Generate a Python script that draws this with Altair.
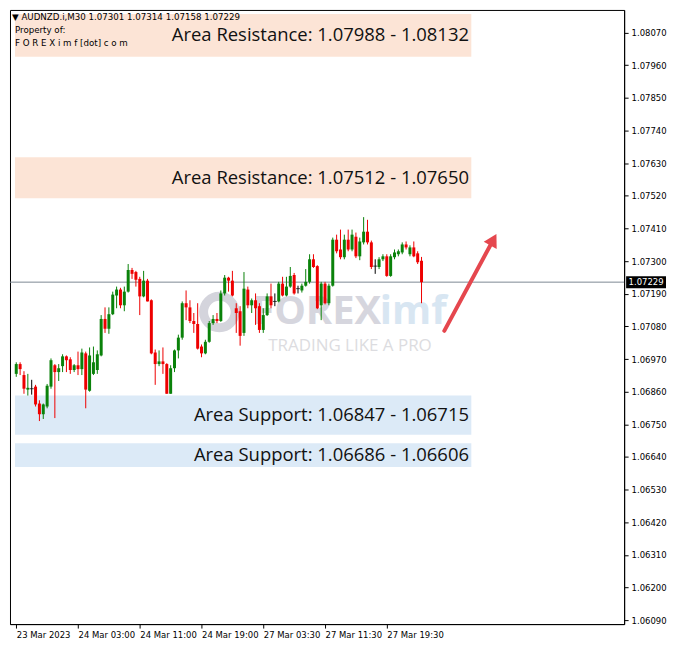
import altair as alt
import pandas as pd

symbol = "AUDNZD.i,M30"
header_ohlc = [1.07301, 1.07314, 1.07158, 1.07229]
last_price = 1.07229

opens = [1.06920, 1.06953, 1.06916, 1.06867, 1.06870, 1.06877, 1.06820, 1.06784, 1.06810, 1.06877,
         1.06949, 1.06926, 1.06946, 1.06979, 1.06969, 1.06933, 1.06949, 1.06936, 1.06989, 1.06863,
         1.06920, 1.06933, 1.06982, 1.07105, 1.07072, 1.07121, 1.07184, 1.07204, 1.07151, 1.07197,
         1.07270, 1.07263, 1.07240, 1.07181, 1.07234, 1.07168, 1.06992, 1.06953, 1.06962, 1.06953,
         1.06853, 1.06939, 1.06999, 1.07042, 1.07158, 1.07144, 1.07098, 1.07088, 1.07012, 1.06989,
         1.07028, 1.07091, 1.07105, 1.07098, 1.07191, 1.07244, 1.07234, 1.07141, 1.07131, 1.07058,
         1.07204, 1.07151, 1.07168, 1.07148, 1.07068, 1.07118, 1.07181, 1.07164, 1.07164, 1.07224,
         1.07184, 1.07214, 1.07253, 1.07207, 1.07201, 1.07217, 1.07230, 1.07306, 1.07283, 1.07151,
         1.07224, 1.07158, 1.07217, 1.07372, 1.07339, 1.07313, 1.07372, 1.07339, 1.07382, 1.07316,
         1.07363, 1.07399, 1.07363, 1.07283, 1.07280, 1.07306, 1.07316, 1.07250, 1.07313, 1.07323,
         1.07329, 1.07356, 1.07323, 1.07346, 1.07326, 1.07301]
highs = [1.06959, 1.06959, 1.06929, 1.06920, 1.06900, 1.06883, 1.06831, 1.06820, 1.06886, 1.06972,
         1.06953, 1.06953, 1.06986, 1.06982, 1.06976, 1.06953, 1.06995, 1.07005, 1.06995, 1.07009,
         1.07012, 1.06999, 1.07118, 1.07144, 1.07144, 1.07197, 1.07214, 1.07210, 1.07214, 1.07290,
         1.07277, 1.07267, 1.07247, 1.07267, 1.07240, 1.07171, 1.07002, 1.06999, 1.07009, 1.06956,
         1.06949, 1.07002, 1.07052, 1.07164, 1.07201, 1.07168, 1.07125, 1.07158, 1.07019, 1.07035,
         1.07098, 1.07118, 1.07125, 1.07201, 1.07253, 1.07247, 1.07267, 1.07158, 1.07148, 1.07263,
         1.07214, 1.07174, 1.07191, 1.07158, 1.07141, 1.07191, 1.07224, 1.07191, 1.07230, 1.07247,
         1.07247, 1.07280, 1.07260, 1.07217, 1.07224, 1.07273, 1.07323, 1.07323, 1.07286, 1.07230,
         1.07230, 1.07224, 1.07379, 1.07389, 1.07406, 1.07389, 1.07406, 1.07406, 1.07396, 1.07379,
         1.07448, 1.07439, 1.07369, 1.07306, 1.07313, 1.07323, 1.07323, 1.07323, 1.07339, 1.07339,
         1.07363, 1.07366, 1.07353, 1.07366, 1.07333, 1.07314]
lows = [1.06910, 1.06916, 1.06853, 1.06847, 1.06850, 1.06810, 1.06761, 1.06768, 1.06804, 1.06870,
        1.06771, 1.06896, 1.06926, 1.06926, 1.06920, 1.06926, 1.06916, 1.06916, 1.06804, 1.06860,
        1.06916, 1.06920, 1.06979, 1.07058, 1.07055, 1.07118, 1.07141, 1.07141, 1.07131, 1.07194,
        1.07240, 1.07214, 1.07118, 1.07178, 1.07164, 1.06986, 1.06883, 1.06946, 1.06920, 1.06853,
        1.06853, 1.06926, 1.06972, 1.07035, 1.07101, 1.07091, 1.07058, 1.07002, 1.06976, 1.06986,
        1.07025, 1.07085, 1.07091, 1.07095, 1.07184, 1.07197, 1.07181, 1.07058, 1.07015, 1.07048,
        1.07141, 1.07125, 1.07085, 1.07058, 1.07058, 1.07115, 1.07141, 1.07148, 1.07161, 1.07181,
        1.07181, 1.07210, 1.07187, 1.07191, 1.07194, 1.07214, 1.07224, 1.07277, 1.07138, 1.07101,
        1.07154, 1.07151, 1.07214, 1.07326, 1.07306, 1.07306, 1.07333, 1.07333, 1.07310, 1.07303,
        1.07356, 1.07356, 1.07273, 1.07257, 1.07273, 1.07300, 1.07247, 1.07247, 1.07306, 1.07316,
        1.07323, 1.07339, 1.07316, 1.07313, 1.07290, 1.07158]
closes = [1.06953, 1.06936, 1.06870, 1.06873, 1.06870, 1.06817, 1.06784, 1.06817, 1.06880, 1.06966,
          1.06926, 1.06939, 1.06979, 1.06966, 1.06933, 1.06949, 1.06936, 1.06992, 1.06867, 1.06982,
          1.06959, 1.06986, 1.07105, 1.07072, 1.07121, 1.07187, 1.07204, 1.07151, 1.07197, 1.07270,
          1.07257, 1.07237, 1.07181, 1.07234, 1.07164, 1.06989, 1.06953, 1.06962, 1.06953, 1.06853,
          1.06939, 1.06999, 1.07042, 1.07158, 1.07144, 1.07098, 1.07088, 1.07005, 1.06989, 1.07028,
          1.07091, 1.07105, 1.07098, 1.07191, 1.07244, 1.07234, 1.07184, 1.07125, 1.07048, 1.07207,
          1.07151, 1.07168, 1.07141, 1.07068, 1.07118, 1.07181, 1.07151, 1.07164, 1.07224, 1.07184,
          1.07214, 1.07250, 1.07191, 1.07207, 1.07217, 1.07230, 1.07306, 1.07280, 1.07141, 1.07224,
          1.07158, 1.07217, 1.07372, 1.07333, 1.07313, 1.07372, 1.07339, 1.07389, 1.07316, 1.07366,
          1.07399, 1.07363, 1.07280, 1.07283, 1.07306, 1.07316, 1.07250, 1.07316, 1.07329, 1.07333,
          1.07356, 1.07346, 1.07346, 1.07316, 1.07296, 1.07229]

tick_bars = [0, 16, 32, 48, 64, 80, 96]
tick_labels = ["23 Mar 2023", "24 Mar 03:00", "24 Mar 11:00", "24 Mar 19:00",
               "27 Mar 03:30", "27 Mar 11:30", "27 Mar 19:30"]
price_ticks = [1.06090, 1.06200, 1.06310, 1.06420, 1.06530, 1.06640, 1.06750, 1.06860,
               1.06970, 1.07080, 1.07190, 1.07300, 1.07410, 1.07520, 1.07630, 1.07740,
               1.07850, 1.07960, 1.08070]

zone_kind = ["Resistance", "Resistance", "Support", "Support"]
zone_from = [1.07988, 1.07512, 1.06847, 1.06686]
zone_to = [1.08132, 1.07650, 1.06715, 1.06606]

arrow_bar = [110.9, 123.6]
arrow_price = [1.07065, 1.07372]

X_MIN, X_MAX = -0.33, 156.2
Y_MIN, Y_MAX = 1.06077, 1.08146
ZONE_END = 117.9
ZONE_TEXT_X = 117.3
W, H = 616, 616
FONT = "DejaVu Sans"

candles = pd.DataFrame({"i": list(range(len(opens))), "open": opens, "high": highs,
                        "low": lows, "close": closes})
candles["dir"] = ["up" if c > o else ("down" if c < o else "flat")
                  for o, c in zip(opens, closes)]

zones = pd.DataFrame({"kind": zone_kind, "a": zone_from, "b": zone_to})
zones["mid"] = (zones["a"] + zones["b"]) / 2
zones["label"] = [f"Area {k}: {a:.5f} - {b:.5f}" for k, a, b in zip(zone_kind, zone_from, zone_to)]

xscale = alt.Scale(domain=[X_MIN, X_MAX], nice=False, zero=False)
yscale = alt.Scale(domain=[Y_MIN, Y_MAX], nice=False, zero=False)

labels_js = "[" + ",".join(f"'{t}'" for t in tick_labels) + "]"
ticks_js = "[" + ",".join(str(t) for t in tick_bars) + "]"
xaxis = alt.Axis(values=tick_bars, labelExpr=f"{labels_js}[indexof({ticks_js}, datum.value)]",
                 labelAlign="left", labelPadding=2, tickSize=4, title=None, grid=False,
                 labelOverlap=False, labelFlush=False, labelBound=False)
yaxis = alt.Axis(values=price_ticks, format=".5f", orient="right", tickSize=4, labelPadding=3,
                 title=None, grid=False, labelOverlap=False, labelFlush=False, labelBound=False)


def Y(field):
    return alt.Y(field, scale=yscale, axis=yaxis)


def X(field):
    return alt.X(field, scale=xscale, axis=xaxis)


up_col, down_col, flat_col = "#0A820A", "#EE0000", "#000000"
color_scale = alt.Scale(domain=["up", "down", "flat"], range=[up_col, down_col, flat_col])

zone_rects = alt.Chart(zones).mark_rect().encode(
    x=alt.datum(X_MIN, scale=xscale, axis=xaxis),
    x2=alt.datum(ZONE_END),
    y=Y("a:Q"),
    y2="b:Q",
    fill=alt.Fill("kind:N", scale=alt.Scale(domain=["Resistance", "Support"],
                                            range=["#FCE4D6", "#DCEAF7"]), legend=None),
)

wm_ring = alt.Chart(pd.DataFrame({"t": [0]})).mark_point(
    shape="circle", filled=False, size=1000, strokeWidth=9, color="#D4D4DC", opacity=1
).encode(x=alt.value(210), y=alt.value(303))
wm_forex = alt.Chart(pd.DataFrame({"t": ["FOREX"]})).mark_text(
    font="Open Sans", fontWeight="bold", fontSize=40, color="#D6D6DE", align="left", baseline="middle"
).encode(x=alt.value(243), y=alt.value(303), text="t:N")
wm_imf = alt.Chart(pd.DataFrame({"t": ["imf"]})).mark_text(
    font="Open Sans", fontWeight="bold", fontSize=40, color="#D8E6F2", align="left", baseline="middle"
).encode(x=alt.value(371), y=alt.value(303), text="t:N")
wm_tag = alt.Chart(pd.DataFrame({"t": ["TRADING LIKE A PRO"]})).mark_text(
    font="Open Sans", fontSize=17, color="#DCDCE0", align="center", baseline="middle"
).encode(x=alt.value(341), y=alt.value(337), text="t:N")

price_line = alt.Chart(pd.DataFrame({"p": [last_price]})).mark_rule(
    color="#7D8993", strokeWidth=1).encode(y=Y("p:Q"))

wicks = alt.Chart(candles).mark_rule(strokeWidth=1).encode(
    x=X("i:Q"),
    y=Y("low:Q"),
    y2="high:Q",
    color=alt.Color("dir:N", scale=color_scale, legend=None),
)
bodies = alt.Chart(candles).mark_bar(size=3).encode(
    x=X("i:Q"),
    y=Y("open:Q"),
    y2="close:Q",
    color=alt.Color("dir:N", scale=color_scale, legend=None),
)
dojis = alt.Chart(candles).transform_filter("datum.dir == 'flat'").mark_tick(
    orient="horizontal", size=4, thickness=1, color=flat_col).encode(
    x=X("i:Q"),
    y=Y("open:Q"),
)

zone_text = alt.Chart(zones).mark_text(
    font="Open Sans", fontSize=18.5, color="#111111", align="right", baseline="middle"
).encode(x=alt.datum(ZONE_TEXT_X, scale=xscale, axis=xaxis), y=Y("mid:Q"), text="label:N")

arrow_df = pd.DataFrame({"i": arrow_bar, "p": arrow_price})
arrow_line = alt.Chart(arrow_df).mark_line(color="#E5474E", strokeWidth=4, strokeCap="round").encode(
    x=X("i:Q"), y=Y("p:Q"))
arrow_head = alt.Chart(arrow_df.tail(1)).mark_point(
    shape="triangle-up", filled=True, size=220, angle=29, color="#E5474E", opacity=1).encode(
    x=X("i:Q"), y=Y("p:Q"))

header1 = alt.Chart(pd.DataFrame({"t": ["\u25bc " + symbol + "  " + " ".join(f"{v:.5f}" for v in header_ohlc)]})).mark_text(
    font=FONT, fontSize=8.7, color="black", align="left", baseline="middle").encode(
    x=alt.value(2), y=alt.value(7), text="t:N")
header2 = alt.Chart(pd.DataFrame({"t": ["Property of:"]})).mark_text(
    font=FONT, fontSize=8.7, color="black", align="left", baseline="middle").encode(
    x=alt.value(5), y=alt.value(20), text="t:N")
header3 = alt.Chart(pd.DataFrame({"t": ["F O R E X i m f [dot] c o m"]})).mark_text(
    font=FONT, fontSize=8.7, color="black", align="left", baseline="middle").encode(
    x=alt.value(5), y=alt.value(33), text="t:N")

box_path = "M-1,-0.3H1V0.3H-1Z"
price_box = alt.Chart(pd.DataFrame({"p": [last_price]})).mark_point(
    shape=box_path, filled=True, size=1600, color="black", opacity=1).encode(
    x=alt.value(W + 22), y=Y("p:Q"))
price_txt = alt.Chart(pd.DataFrame({"p": [last_price], "t": [f"{last_price:.5f}"]})).mark_text(
    font=FONT, fontSize=8.5, color="white", align="center", baseline="middle").encode(
    x=alt.value(W + 22), y=Y("p:Q"), text="t:N")

chart = alt.layer(
    zone_rects, wm_ring, wm_forex, wm_imf, wm_tag, price_line, wicks, bodies, dojis,
    zone_text, arrow_line, arrow_head, header1, header2, header3, price_box, price_txt
).properties(
    width=W, height=H, padding={"left": 1, "top": 1, "right": 0, "bottom": 0}, background="white"
).configure_view(stroke="black", strokeWidth=1).configure_axis(
    labelFont=FONT, labelFontSize=8.5, labelColor="black", domainColor="black",
    tickColor="black", domainWidth=1
)

chart.save("out.html", embed_options={"renderer": "svg", "actions": False})
